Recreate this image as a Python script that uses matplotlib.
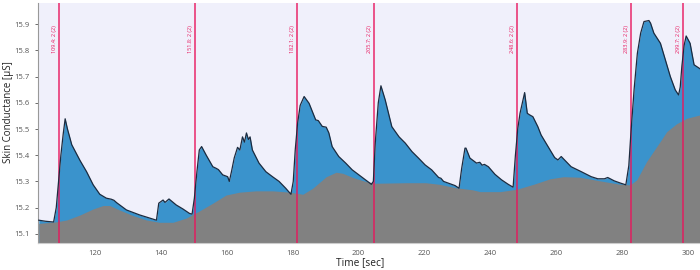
import matplotlib
matplotlib.use("Agg")
import matplotlib.pyplot as plt

# --- data ---
t_sc = [103.0, 105.0, 107.5, 108.3, 109.0, 109.7, 110.4, 111.0, 111.7, 113.0,
        115.5, 117.5, 119.5, 121.5, 123.5, 125.0, 125.8, 126.6, 129.6, 133.6,
        136.6, 138.7, 139.4, 140.7, 141.3, 142.5, 144.7, 146.7, 148.7, 149.5,
        150.2, 151.0, 151.7, 152.4, 153.8, 155.8, 156.8, 157.5, 158.8, 160.3,
        160.8, 161.5, 162.3, 163.3, 164.0, 164.8, 165.4, 166.0, 166.6, 167.1,
        167.8, 169.8, 171.9, 173.9, 175.9, 177.9, 179.5, 180.2, 180.8, 181.5,
        182.3, 183.5, 185.0, 187.0, 187.8, 189.0, 190.2, 191.0, 192.0, 194.0,
        196.1, 198.1, 200.1, 202.1, 203.9, 204.5, 205.1, 206.0, 206.8, 208.1,
        210.1, 212.3, 214.2, 216.2, 218.2, 220.2, 222.2, 224.3, 225.0, 225.8,
        227.3, 229.3, 230.5, 231.3, 232.3, 232.6, 233.8, 235.8, 236.8, 237.5,
        238.2, 239.4, 241.4, 243.4, 245.4, 246.9, 247.6, 248.3, 249.0, 250.4,
        251.2, 251.9, 252.9, 254.4, 255.4, 257.5, 259.5, 260.5, 261.5, 262.5,
        264.5, 267.6, 270.6, 272.6, 274.6, 275.6, 277.6, 279.6, 281.1, 282.0,
        282.6, 283.6, 284.6, 285.6, 286.6, 288.1, 288.6, 289.6, 291.6, 293.1,
        294.6, 296.1, 297.1, 297.6, 298.1, 298.8, 299.4, 300.6, 301.8, 303.6]
sc = [15.152, 15.148, 15.145, 15.20, 15.30, 15.40, 15.48, 15.539, 15.50, 15.44,
      15.38, 15.337, 15.287, 15.251, 15.236, 15.232, 15.228, 15.219, 15.191, 15.172,
      15.160, 15.152, 15.217, 15.229, 15.22, 15.233, 15.21, 15.195, 15.178, 15.175,
      15.236, 15.34, 15.42, 15.433, 15.40, 15.356, 15.35, 15.345, 15.325, 15.318,
      15.30, 15.34, 15.39, 15.43, 15.42, 15.47, 15.45, 15.485, 15.46, 15.47,
      15.42, 15.37, 15.337, 15.318, 15.30, 15.274, 15.251, 15.30, 15.42, 15.52,
      15.59, 15.624, 15.598, 15.535, 15.532, 15.51, 15.507, 15.485, 15.433, 15.395,
      15.37, 15.344, 15.325, 15.306, 15.289, 15.30, 15.45, 15.60, 15.665, 15.611,
      15.509, 15.47, 15.446, 15.414, 15.389, 15.363, 15.344, 15.315, 15.312, 15.30,
      15.293, 15.284, 15.274, 15.35, 15.427, 15.427, 15.389, 15.37, 15.373, 15.362,
      15.365, 15.356, 15.327, 15.306, 15.289, 15.278, 15.40, 15.50, 15.56, 15.639,
      15.56, 15.554, 15.547, 15.509, 15.477, 15.433, 15.391, 15.382, 15.395, 15.382,
      15.356, 15.337, 15.318, 15.31, 15.31, 15.315, 15.302, 15.293, 15.287, 15.36,
      15.477, 15.65, 15.789, 15.866, 15.91, 15.914, 15.904, 15.866, 15.827, 15.764,
      15.70, 15.649, 15.63, 15.66, 15.74, 15.82, 15.855, 15.827, 15.745, 15.73]

t_tonic = [103.0, 108.0, 111.5, 115.5, 119.5, 122.5, 124.5, 127.5, 131.5, 135.6,
           139.6, 143.7, 147.7, 151.7, 155.8, 159.8, 163.9, 168.9, 174.0, 179.0,
           183.1, 186.1, 190.2, 193.2, 195.2, 198.3, 202.3, 205.3, 214.4, 220.4,
           224.5, 229.5, 234.6, 236.9, 243.0, 248.0, 253.1, 258.1, 262.2, 267.2,
           273.3, 279.4, 282.4, 284.4, 287.4, 291.5, 293.5, 296.5, 299.6, 303.6]
tonic = [15.14, 15.145, 15.153, 15.172, 15.195, 15.208, 15.208, 15.191, 15.17, 15.153,
         15.144, 15.144, 15.16, 15.187, 15.217, 15.248, 15.259, 15.264, 15.264, 15.259,
         15.251, 15.274, 15.318, 15.335, 15.331, 15.315, 15.299, 15.293, 15.295, 15.295,
         15.289, 15.276, 15.268, 15.261, 15.261, 15.27, 15.289, 15.31, 15.318, 15.316,
         15.302, 15.289, 15.287, 15.306, 15.376, 15.452, 15.49, 15.52, 15.541, 15.554]

event_times = [109.2, 150.3, 181.4, 204.7, 248.2, 282.6, 298.4]
event_labels = ["109.4: 2 (2)", "151.8: 2 (2)", "182.1: 2 (2)", "205.7: 2 (2)",
                "248.6: 2 (2)", "283.9: 2 (2)", "299.7: 2 (2)"]

y_ticks = [15.1, 15.2, 15.3, 15.4, 15.5, 15.6, 15.7, 15.8, 15.9]
x_ticks = [120, 140, 160, 180, 200, 220, 240, 260, 280, 300]

plt.rcParams['font.family'] = ['Open Sans', 'DejaVu Sans']

fig = plt.figure(figsize=(7, 2.7), dpi=100)
ax = fig.add_axes([0.054, 0.101, 0.946, 0.888])
ax.set_facecolor('#f0f0fb')

base = 15.0
ax.fill_between(t_sc, base, sc, color='#3a93cc', lw=0, zorder=1)
ax.fill_between(t_tonic, base, tonic, color='#818181', lw=0, zorder=2)
ax.plot(t_sc, sc, color='#1c2b3f', lw=0.9, zorder=4)

for t, lab in zip(event_times, event_labels):
    ax.axvline(t, color='#e8175d', lw=1.2, alpha=0.85, zorder=3)
    ax.text(t - 0.6, 15.895, lab, rotation=90, ha='right', va='top',
            fontsize=4, color='#e8175d', zorder=5)

ax.set_xlim(102.7, 303.6)
ax.set_ylim(15.066, 15.981)
ax.set_yticks(y_ticks)
ax.set_xticks(x_ticks)
ax.set_yticklabels([f"{v:.1f}" for v in y_ticks])
ax.tick_params(axis='both', labelsize=5.5, colors='#555555', length=2.5, width=0.6)
ax.tick_params(axis='x', length=0, pad=5)

for s in ['top', 'right']:
    ax.spines[s].set_visible(False)
ax.spines['left'].set_color('#999999')
ax.spines['left'].set_linewidth(0.8)
ax.spines['bottom'].set_color('#cccccc')
ax.spines['bottom'].set_linewidth(0.8)

ax.set_xlabel('Time [sec]', fontsize=7.3, color='#222222')
ax.set_ylabel('Skin Conductance [µS]', fontsize=7, color='#222222')
ax.xaxis.set_label_coords(0.486, -0.058)
ax.yaxis.set_label_coords(-0.036, 0.545)

fig.savefig('out.png', dpi=100)
